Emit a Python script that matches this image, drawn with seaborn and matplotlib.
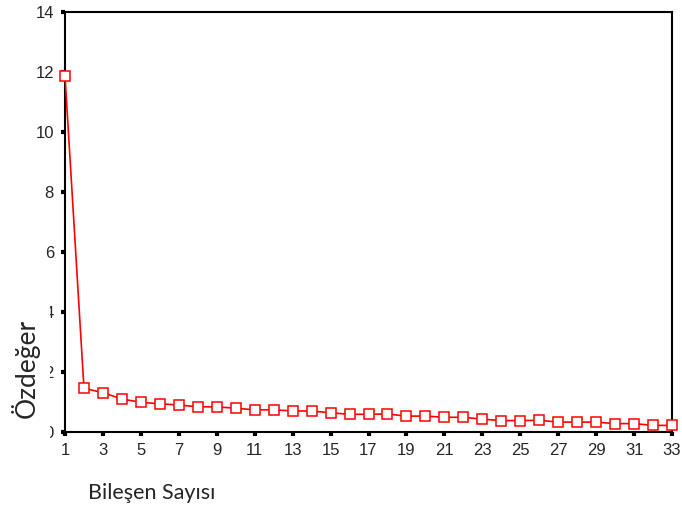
import matplotlib
matplotlib.use("Agg")
import matplotlib.pyplot as plt
import seaborn as sns
import pandas as pd
from matplotlib.patches import Rectangle

components = list(range(1, 34))
eigenvalues = [11.87, 1.46, 1.31, 1.10, 0.99, 0.94, 0.90, 0.84, 0.84, 0.79,
               0.74, 0.74, 0.70, 0.70, 0.64, 0.59, 0.59, 0.60, 0.53, 0.53,
               0.49, 0.49, 0.43, 0.38, 0.38, 0.39, 0.33, 0.33, 0.33, 0.28,
               0.28, 0.22, 0.22]
xticks = list(range(1, 34, 2))
yticks = list(range(0, 15, 2))

sns.set_style("white")
plt.rcParams['font.family'] = ['Liberation Sans', 'DejaVu Sans']

df = pd.DataFrame({"Bileşen": components, "Özdeğer": eigenvalues})

fig = plt.figure(figsize=(6.82, 5.09), dpi=100)
ax = fig.add_axes([65/682, 77/509, 607/682, 420/509])
sns.lineplot(data=df, x="Bileşen", y="Özdeğer", ax=ax, color="red", lw=1.2,
             marker="s", markersize=7.5, markerfacecolor="white",
             markeredgecolor="red", markeredgewidth=1.1, clip_on=False, zorder=3)

ax.set_xlim(1, 33)
ax.set_ylim(0, 14)
ax.set_xticks(xticks)
ax.set_yticks(yticks)
ax.set_xticklabels([str(t) for t in xticks], fontsize=12)
ax.set_yticklabels([str(t) for t in yticks], fontsize=12)
ax.tick_params(axis='both', direction='out', length=3, width=3, color='black',
               left=True, bottom=True, pad=5)
for s in ax.spines.values():
    s.set_visible(True)
    s.set_color('black')
    s.set_linewidth(1.5)
ax.set_xlabel("")
ax.set_ylabel("")

fig.patches.append(Rectangle((0, 64/509), 50/682, 146/509, transform=fig.transFigure,
                             facecolor='white', edgecolor='none', zorder=5))
fig.text(25/682, (509-368)/509, "Özdeğer", rotation=90, fontsize=19,
         family=['Lato', 'DejaVu Sans'], ha='center', va='center', zorder=6)
fig.text(152/682, (509-493)/509, "Bileşen Sayısı", fontsize=15.5,
         family=['Lato', 'DejaVu Sans'], ha='center', va='center', zorder=6)

fig.savefig("out.png", dpi=100)
